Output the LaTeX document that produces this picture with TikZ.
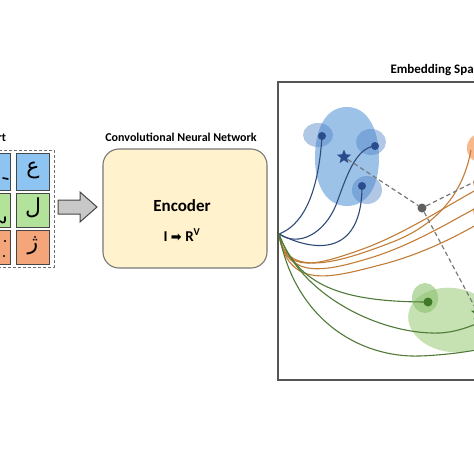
\documentclass[tikz,border=0pt]{standalone}
\usepackage{fontspec}
\setmainfont{Carlito}
\newfontfamily\dejavu{DejaVu Sans}
\newfontfamily\arabicfont[Script=Arabic]{DejaVu Sans}
\TeXXeTstate=1
\usetikzlibrary{shapes.geometric}
\definecolor{tileblue}{HTML}{8EC4F2}
\definecolor{tilegreen}{HTML}{B3E29A}
\definecolor{tileorange}{HTML}{F4A57A}
\definecolor{encfill}{HTML}{FFF2CC}
\definecolor{blobblue}{HTML}{9CC2E8}
\definecolor{subblue}{HTML}{4F82C8}
\definecolor{dotblue}{HTML}{2B4C8C}
\definecolor{curveblue}{HTML}{2F4A78}
\definecolor{curveorange}{HTML}{C27C36}
\definecolor{curvegreen}{HTML}{4F7A38}
\definecolor{blobgreen}{HTML}{C6E2B3}
\definecolor{subgreen}{HTML}{8CC270}
\definecolor{dotgreen}{HTML}{3F7A2B}
\definecolor{bloborange}{HTML}{F6B98E}
\tikzset{
  tile/.style={draw={rgb,255:red,70;green,70;blue,70}, line width=0.8pt},
  glyph/.style={font=\arabicfont\fontsize{22}{22}\selectfont, text=black},
  inkstroke/.style={draw=black, line width=1.6pt, line cap=round},
  title/.style={font=\bfseries\fontsize{12}{14}\selectfont},
  blueline/.style={draw=curveblue, line width=1.1pt},
  orangeline/.style={draw=curveorange, line width=1.1pt},
  greenline/.style={draw=curvegreen, line width=1.1pt},
  protodash/.style={draw={rgb,255:red,120;green,120;blue,120}, line width=1.2pt, dash pattern=on 4.5pt off 3pt},
  bluedot/.style={circle, fill=dotblue, inner sep=0pt, minimum size=8pt},
}
\begin{document}
\begin{tikzpicture}[x=1pt,y=-1pt]
\useasboundingbox (0,0) rectangle (474,474);
% ---------- support set ----------
\node[title, anchor=base east] (suptitle) at (9.6,141) {Support};
\draw[draw={rgb,255:red,110;green,110;blue,110}, line width=1pt, dash pattern=on 3pt off 2pt] (-40,150) rectangle (54,267);
\draw[tile, fill=tileblue] (-35,153) rectangle (10.5,190);
\draw[tile, fill=tileblue] (16,153) rectangle (49,190);
\draw[tile, fill=tilegreen] (-35,193) rectangle (10.5,227);
\draw[tile, fill=tilegreen] (16,193) rectangle (49,227);
\draw[tile, fill=tileorange] (-35,230) rectangle (10.5,264);
\draw[tile, fill=tileorange] (16,230) rectangle (49,264);
\node[glyph] (g12) at (33,170) {\beginR ع\endR};
\node[glyph] (g22) at (33,208) {\beginR ل\endR};
\node[glyph] (g32) at (33,246) {\beginR ژ\endR};
% fragments of the cut-off handwritten samples
\draw[inkstroke] (3,178) -- (8,179);
\draw[inkstroke] (0,221) .. controls (3,224) and (6,223) .. (5,217);
\fill (5,241) circle (1.2);
\fill (4,256) circle (1.2);
% ---------- arrow ----------
\draw[fill={rgb,255:red,200;green,200;blue,200}, draw={rgb,255:red,70;green,70;blue,70}, line width=1pt, line join=miter]
  (58,200) -- (80,200) -- (80,192) -- (97,207) -- (80,222) -- (80,214) -- (58,214) -- cycle;
% ---------- encoder ----------
\node[title] (cnntitle) at (181,137) {Convolutional Neural Network};
\draw[fill=encfill, draw={rgb,255:red,120;green,120;blue,120}, line width=1.1pt, rounded corners=16pt] (103,149) rectangle (267,268);
\node[font=\bfseries\fontsize{17}{19}\selectfont] (enc) at (182,206) {Encoder};
\node[font=\bfseries\fontsize{15}{17}\selectfont] (map) at (182,235) {I {\dejavu\fontsize{13}{15}\selectfont ➡} R\textsuperscript{V}};
% ---------- embedding space ----------
\node[title, font=\bfseries\fontsize{13}{15}\selectfont, anchor=base west] (embtitle) at (387,73) {Embedding Space};
% blobs
\fill[blobblue] (347,107) .. controls (368,107) and (379,130) .. (379,158)
  .. controls (379,188) and (366,206) .. (347,206)
  .. controls (328,206) and (315,188) .. (315,158)
  .. controls (315,128) and (326,107) .. (347,107) -- cycle;
\fill[blobgreen, rotate around={-8:(452,320)}] (452,320) ellipse [x radius=44, y radius=32];
\fill[bloborange] (479,148) ellipse [x radius=12, y radius=14];
\fill[bloborange] (480,183) ellipse [x radius=7, y radius=7];
\fill[bloborange] (480,211) ellipse [x radius=7, y radius=7];
\fill[subblue, fill opacity=0.45] (318,135) ellipse [x radius=15, y radius=12];
\fill[subblue, fill opacity=0.45] (371,142) ellipse [x radius=15, y radius=13];
\fill[subblue, fill opacity=0.45] (367,190) ellipse [x radius=15, y radius=14];
\fill[subgreen, fill opacity=0.6] (425,298) ellipse [x radius=13, y radius=15];
% named points
\coordinate (O) at (279,234);
\coordinate (b1) at (322,136);
\coordinate (b2) at (375,146);
\coordinate (b3) at (362,186);
\coordinate (gd) at (428,302);
\coordinate (o1) at (471,150);
\coordinate (o2) at (476,190);
\coordinate (o3) at (476,208);
\coordinate (o4) at (476,225);
\coordinate (g2) at (476,324);
\coordinate (g3) at (476,350);
\coordinate (ostar) at (476,181);
% curves
\draw[blueline] (O) .. controls (300,226) and (318,200) .. (b1);
\draw[blueline] (O) .. controls (300,248) and (325,232) .. (336,205) .. controls (346,178) and (355,148) .. (b2);
\draw[blueline] (O) .. controls (320,255) and (362,252) .. (b3);
\draw[orangeline] (O) .. controls (285,280) and (340,262) .. (390,243) .. controls (430,228) and (462,200) .. (o1);
\draw[orangeline] (O) .. controls (284,276) and (320,264) .. (360,250) .. controls (400,236) and (440,210) .. (o2);
\draw[orangeline] (O) .. controls (286,282) and (330,270) .. (370,258) .. controls (410,246) and (450,222) .. (o3);
\draw[orangeline] (O) .. controls (288,290) and (330,278) .. (380,265) .. controls (420,255) and (455,237) .. (o4);
\draw[greenline] (O) .. controls (298,285) and (340,302) .. (gd);
\draw[greenline] (O) .. controls (300,295) and (380,335) .. (440,333) .. controls (455,332) and (466,328) .. (g2);
\draw[greenline] (O) .. controls (295,320) and (360,358) .. (420,356) .. controls (445,355) and (465,352) .. (g3);
% prototypes
\node[star, star points=5, star point ratio=2.3, fill=dotblue, inner sep=0pt, minimum size=15pt] (bstar) at (344,157) {};
\node[star, star points=5, star point ratio=2.3, fill=dotgreen, inner sep=0pt, minimum size=15pt] (gstar) at (478,313) {};
\node[circle, fill={rgb,255:red,95;green,95;blue,95}, inner sep=0pt, minimum size=9pt] (query) at (422,208) {};
\draw[protodash] (bstar) -- (query);
\draw[protodash] (query) -- (ostar);
\draw[protodash] (query) -- (gstar);
% dots
\node[bluedot] (d1) at (b1) {};
\node[bluedot] (d2) at (b2) {};
\node[bluedot] (d3) at (b3) {};
\node[circle, fill=dotgreen, inner sep=0pt, minimum size=9pt] (d4) at (gd) {};
% frame
\draw[draw={rgb,255:red,85;green,85;blue,85}, line width=1.5pt] (480,82) -- (278,82) -- (278,380) -- (480,380);
\end{tikzpicture}
\end{document}
